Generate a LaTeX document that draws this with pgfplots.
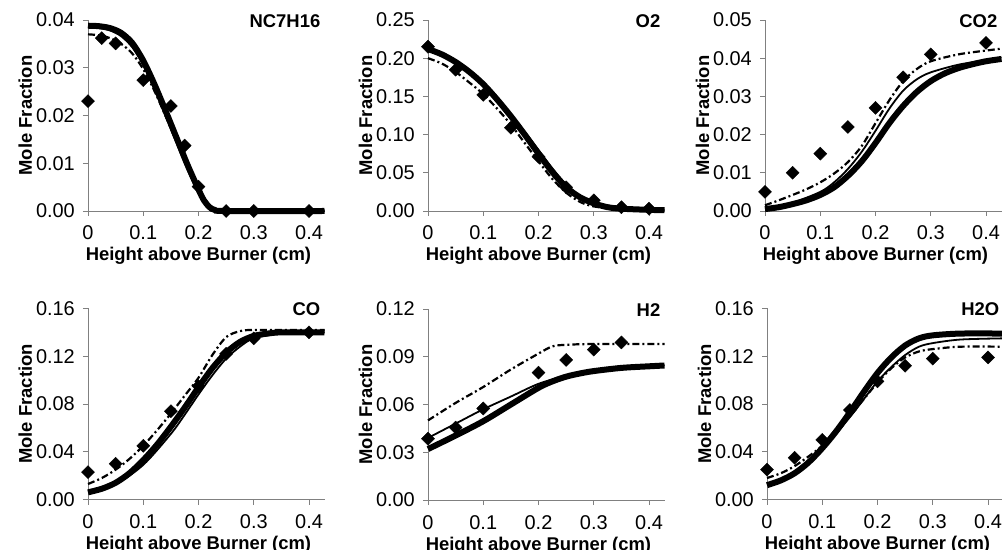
\documentclass[border=0pt]{standalone}
\usepackage{fontspec}
\setmainfont{Liberation Sans}
\usepackage{pgfplots}
\pgfplotsset{compat=1.18}
\pgfplotsset{
  panel/.style={
    scale only axis, width=236.5bp, height=191bp,
    xmin=0, xmax=0.428, ymin=0, clip=false,
    scaled y ticks=false, scaled x ticks=false,
    axis lines*=left, axis line style={-, draw=black!50, line width=0.9bp},
    tick align=outside, major tick length=5bp, tick style={black!50, line width=0.9bp},
    xtick={0,0.1,0.2,0.3,0.4}, xticklabels={0,0.1,0.2,0.3,0.4},
    ticklabel style={font=\fontsize{20}{24}\selectfont},
    /pgf/number format/assume math mode=true,
    xticklabel style={anchor=base, inner sep=0pt, yshift=-24bp},
    yticklabel style={anchor=east, inner sep=0pt, xshift=-8bp},
    xlabel={Height above Burner (cm)}, ylabel={Mole Fraction},
    label style={font=\bfseries\fontsize{18.5}{22}\selectfont},
    xlabel style={at={(axis description cs:0.467,-0.2618)}, anchor=base},
    ylabel style={at={(axis description cs:-0.2368,0.5)}, anchor=base},
  },
  thk/.style={black, line width=6bp, smooth, no markers},
  thn/.style={black, line width=1.8bp, smooth, no markers},
  dd/.style={black, line width=2.2bp, smooth, no markers, dash pattern=on 7bp off 3bp on 2bp off 3bp},
  ex/.style={only marks, mark=square*, mark size=4.6bp, mark options={rotate=45, fill=black, draw=black}},
}
\newcommand{\ptitle}[1]{\node[anchor=base east, inner sep=0pt, font=\bfseries\fontsize{18.5}{22}\selectfont] at (rel axis cs:1,1) [xshift=-4bp, yshift=-7.5bp] {#1};}
\begin{document}
\begin{tikzpicture}
\useasboundingbox (0,0) rectangle (1002bp,550bp);
% NC7H16
\begin{axis}[panel, at={(88bp,339bp)}, anchor=south west, ymax=0.04,
  ytick={0,0.01,0.02,0.03,0.04}, yticklabels={0.00,0.01,0.02,0.03,0.04}]
\addplot[thk] coordinates {(0,0.0388) (0.02,0.0387) (0.04,0.0383) (0.06,0.0373) (0.08,0.0352) (0.10,0.0315) (0.12,0.0266) (0.14,0.0211) (0.16,0.0154) (0.18,0.0097) (0.20,0.0045) (0.21,0.0022) (0.22,0.0008) (0.23,0.0002) (0.25,0) (0.428,0)};
\addplot[thn] coordinates {(0,0.0385) (0.02,0.0383) (0.04,0.0378) (0.06,0.0366) (0.08,0.0343) (0.10,0.0305) (0.12,0.0255) (0.14,0.0200) (0.16,0.0143) (0.18,0.0087) (0.20,0.0037) (0.21,0.0017) (0.22,0.0005) (0.24,0) (0.428,0)};
\addplot[dd] coordinates {(0,0.0370) (0.02,0.0368) (0.04,0.0362) (0.06,0.0350) (0.08,0.0330) (0.10,0.0297) (0.12,0.0252) (0.14,0.0200) (0.16,0.0146) (0.18,0.0092) (0.20,0.0042) (0.21,0.0020) (0.22,0.0007) (0.24,0) (0.428,0)};
\addplot[ex] coordinates {(0,0.023) (0.025,0.0362) (0.05,0.0351) (0.1,0.0274) (0.15,0.022) (0.175,0.0137) (0.2,0.0051) (0.25,0) (0.3,0) (0.4,0)};
\ptitle{NC7H16}
\end{axis}
% O2
\begin{axis}[panel, at={(428bp,339bp)}, anchor=south west, ymax=0.25,
  ytick={0,0.05,0.1,0.15,0.2,0.25}, yticklabels={0.00,0.05,0.10,0.15,0.20,0.25}]
\addplot[thk] coordinates {(0,0.212) (0.025,0.205) (0.05,0.195) (0.075,0.182) (0.1,0.166) (0.125,0.146) (0.15,0.124) (0.175,0.100) (0.2,0.075) (0.225,0.051) (0.25,0.031) (0.275,0.018) (0.3,0.010) (0.325,0.005) (0.35,0.003) (0.4,0.0015) (0.428,0.001)};
\addplot[thn] coordinates {(0,0.213) (0.05,0.197) (0.1,0.168) (0.125,0.149) (0.15,0.127) (0.175,0.104) (0.2,0.080) (0.225,0.056) (0.25,0.035) (0.275,0.020) (0.3,0.011) (0.35,0.003) (0.428,0.001)};
\addplot[dd] coordinates {(0,0.200) (0.025,0.193) (0.05,0.182) (0.075,0.168) (0.1,0.153) (0.125,0.134) (0.15,0.113) (0.175,0.089) (0.2,0.065) (0.225,0.042) (0.25,0.024) (0.275,0.012) (0.3,0.006) (0.35,0.002) (0.428,0.001)};
\addplot[ex] coordinates {(0,0.215) (0.05,0.185) (0.1,0.152) (0.15,0.109) (0.2,0.071) (0.25,0.031) (0.3,0.014) (0.35,0.005) (0.4,0.003)};
\ptitle{O2}
\end{axis}
% CO2
\begin{axis}[panel, at={(765bp,339bp)}, anchor=south west, ymax=0.05,
  ytick={0,0.01,0.02,0.03,0.04,0.05}, yticklabels={0.00,0.01,0.02,0.03,0.04,0.05}]
\addplot[thk] coordinates {(0,0.0005) (0.025,0.001) (0.05,0.0018) (0.075,0.0028) (0.1,0.0042) (0.125,0.0062) (0.15,0.0092) (0.175,0.0130) (0.2,0.0178) (0.225,0.0230) (0.25,0.0275) (0.275,0.0312) (0.3,0.0340) (0.325,0.0360) (0.35,0.0374) (0.375,0.0384) (0.4,0.0392) (0.428,0.0398)};
\addplot[thn] coordinates {(0,0.0007) (0.05,0.0022) (0.1,0.0050) (0.125,0.0075) (0.15,0.0110) (0.175,0.0155) (0.2,0.0210) (0.225,0.0268) (0.25,0.0315) (0.275,0.0345) (0.3,0.0363) (0.35,0.0383) (0.4,0.0395) (0.428,0.0402)};
\addplot[dd] coordinates {(0,0.0015) (0.025,0.0028) (0.05,0.0042) (0.075,0.0057) (0.1,0.0075) (0.125,0.0098) (0.15,0.0128) (0.175,0.0170) (0.2,0.0230) (0.225,0.0290) (0.25,0.0340) (0.275,0.0372) (0.3,0.0392) (0.35,0.0410) (0.4,0.0420) (0.428,0.0425)};
\addplot[ex] coordinates {(0,0.005) (0.05,0.010) (0.1,0.015) (0.15,0.022) (0.2,0.027) (0.25,0.035) (0.3,0.041) (0.4,0.044)};
\ptitle{CO2}
\end{axis}
% CO
\begin{axis}[panel, at={(88bp,50.5bp)}, anchor=south west, ymax=0.16,
  ytick={0,0.04,0.08,0.12,0.16}, yticklabels={0.00,0.04,0.08,0.12,0.16}]
\addplot[thk] coordinates {(0,0.006) (0.025,0.009) (0.05,0.014) (0.075,0.022) (0.1,0.033) (0.125,0.046) (0.15,0.061) (0.175,0.077) (0.2,0.094) (0.225,0.110) (0.25,0.123) (0.275,0.132) (0.3,0.137) (0.325,0.139) (0.35,0.140) (0.428,0.140)};
\addplot[thn] coordinates {(0,0.007) (0.05,0.013) (0.1,0.029) (0.15,0.055) (0.175,0.071) (0.2,0.088) (0.225,0.104) (0.25,0.118) (0.275,0.128) (0.3,0.135) (0.35,0.139) (0.428,0.140)};
\addplot[dd] coordinates {(0,0.013) (0.025,0.018) (0.05,0.025) (0.075,0.034) (0.1,0.045) (0.125,0.058) (0.15,0.072) (0.175,0.087) (0.2,0.102) (0.225,0.121) (0.25,0.136) (0.275,0.141) (0.3,0.142) (0.428,0.142)};
\addplot[ex] coordinates {(0,0.023) (0.05,0.030) (0.1,0.045) (0.15,0.074) (0.2,0.095) (0.25,0.122) (0.3,0.135) (0.4,0.140)};
\ptitle{CO}
\end{axis}
% H2
\begin{axis}[panel, at={(428bp,50bp)}, anchor=south west, ymax=0.12,
  ytick={0,0.03,0.06,0.09,0.12}, yticklabels={0.00,0.03,0.06,0.09,0.12}]
\addplot[thk] coordinates {(0,0.032) (0.05,0.0405) (0.1,0.0495) (0.15,0.060) (0.2,0.0705) (0.225,0.0745) (0.25,0.0775) (0.275,0.0795) (0.3,0.081) (0.35,0.083) (0.4,0.084) (0.428,0.0845)};
\addplot[thn] coordinates {(0,0.039) (0.05,0.048) (0.1,0.057) (0.15,0.065) (0.2,0.073) (0.25,0.078) (0.3,0.0815) (0.35,0.0835) (0.428,0.0848)};
\addplot[dd] coordinates {(0,0.050) (0.05,0.061) (0.1,0.071) (0.15,0.082) (0.2,0.092) (0.225,0.0965) (0.25,0.0975) (0.3,0.098) (0.428,0.098)};
\addplot[ex] coordinates {(0,0.0385) (0.05,0.0455) (0.1,0.0575) (0.2,0.080) (0.25,0.088) (0.3,0.0945) (0.35,0.099)};
\ptitle{H2}
\end{axis}
% H2O
\begin{axis}[panel, at={(767bp,50.5bp)}, anchor=south west, ymax=0.16,
  ytick={0,0.04,0.08,0.12,0.16}, yticklabels={0.00,0.04,0.08,0.12,0.16}]
\addplot[thk] coordinates {(0,0.012) (0.025,0.016) (0.05,0.022) (0.075,0.031) (0.1,0.043) (0.125,0.057) (0.15,0.073) (0.175,0.090) (0.2,0.106) (0.225,0.119) (0.25,0.129) (0.275,0.135) (0.3,0.1375) (0.35,0.139) (0.428,0.139)};
\addplot[thn] coordinates {(0,0.013) (0.05,0.022) (0.1,0.042) (0.15,0.069) (0.175,0.084) (0.2,0.099) (0.225,0.111) (0.25,0.121) (0.275,0.128) (0.3,0.131) (0.35,0.134) (0.428,0.135)};
\addplot[dd] coordinates {(0,0.018) (0.025,0.022) (0.05,0.028) (0.075,0.036) (0.1,0.045) (0.125,0.057) (0.15,0.070) (0.175,0.084) (0.2,0.098) (0.225,0.110) (0.25,0.119) (0.275,0.124) (0.3,0.126) (0.35,0.128) (0.428,0.128)};
\addplot[ex] coordinates {(0,0.025) (0.05,0.035) (0.1,0.050) (0.15,0.075) (0.2,0.099) (0.25,0.112) (0.3,0.118) (0.4,0.119)};
\ptitle{H2O}
\end{axis}
\end{tikzpicture}
\end{document}
